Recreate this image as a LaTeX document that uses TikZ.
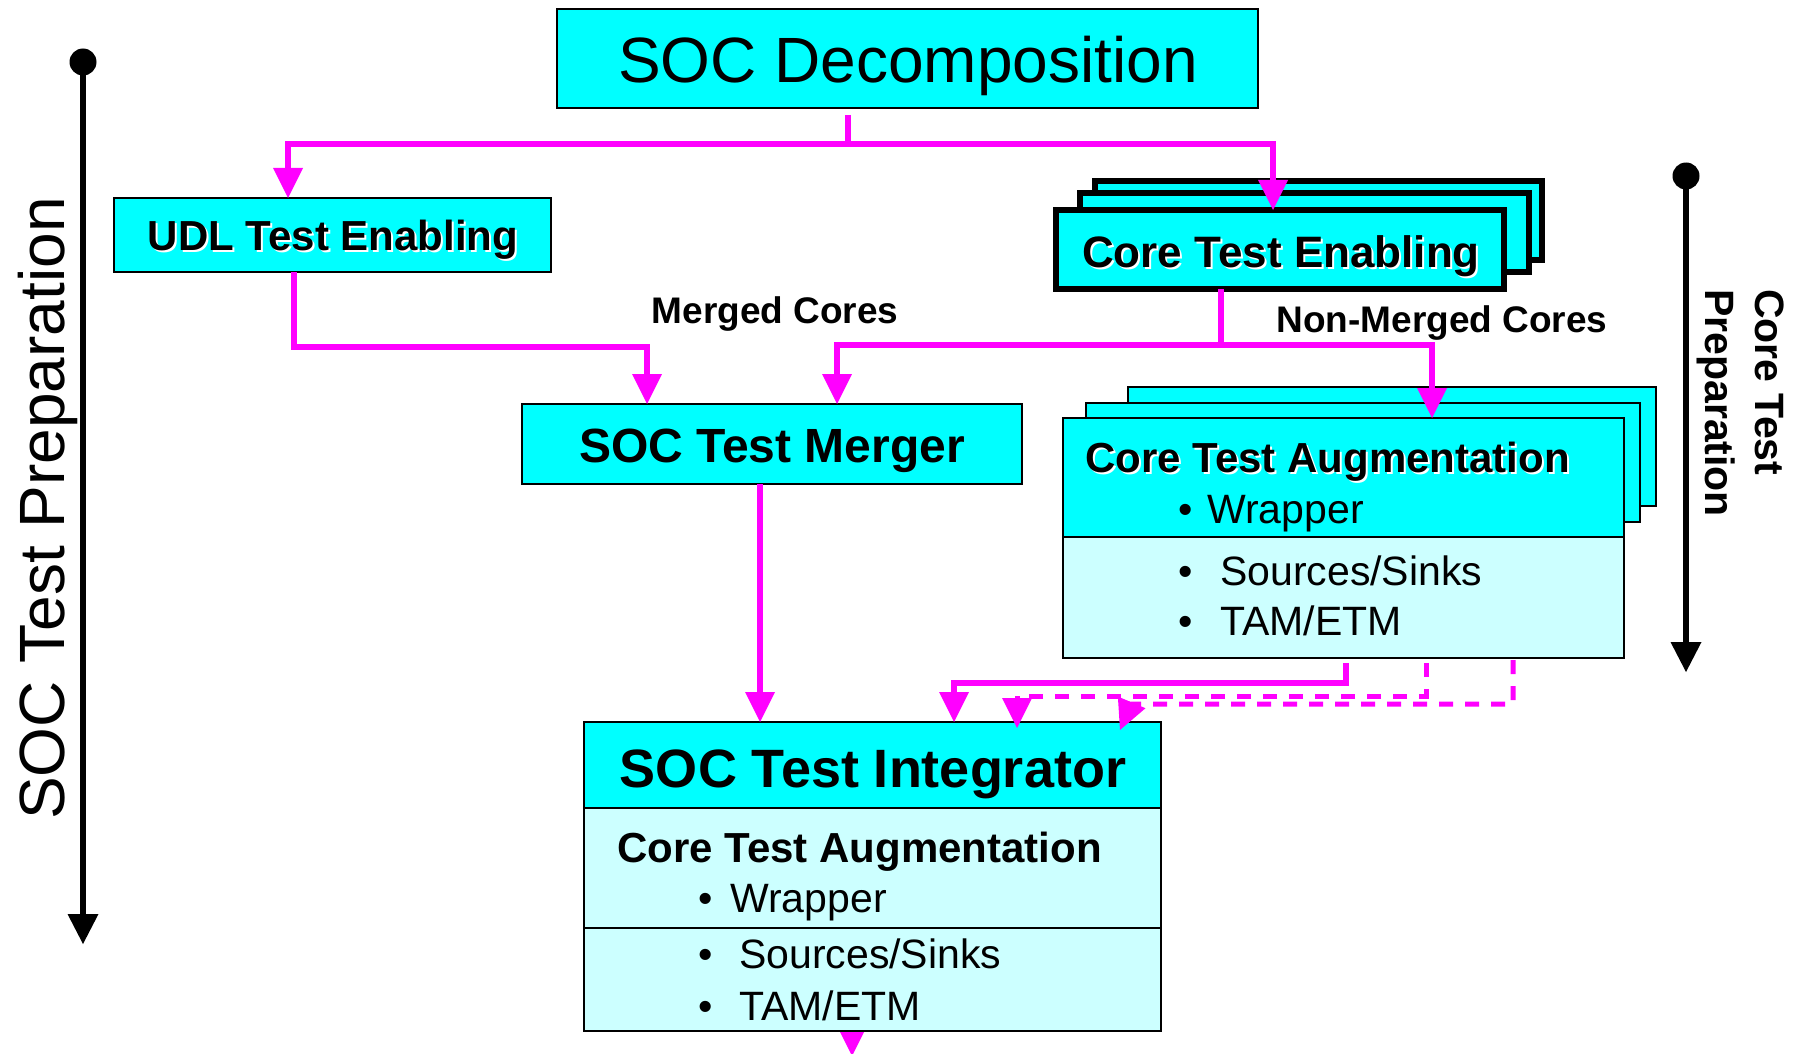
\documentclass[tikz,border=0pt]{standalone}
\usepackage{fontspec}
\setmainfont{Liberation Sans}
\usetikzlibrary{arrows.meta,calc,backgrounds}
\definecolor{boxcyan}{HTML}{00FFFF}
\definecolor{palecyan}{HTML}{CCFFFF}
\definecolor{flowpink}{HTML}{FF00FF}
% font size in pt (one pt is one pixel of the picture)
\newcommand{\fsz}[1]{\fontsize{#1pt}{#1pt}\selectfont}
% black text with a white offset copy behind it
\newcommand{\embossed}[1]{\makebox[0pt][l]{\hspace{2pt}\raisebox{-2pt}{\textcolor{white}{#1}}}#1}

\begin{document}
\begin{tikzpicture}[x=1pt,y=-1pt,
  box/.style={draw=black, line width=2.5pt, fill=boxcyan, inner sep=0pt, outer sep=0pt, anchor=north west},
  palebox/.style={box, fill=palecyan},
  heavybox/.style={box, line width=5.5pt},
  lbl/.style={inner sep=0pt, anchor=base},
  lblw/.style={inner sep=0pt, anchor=base west},
  boldtitle/.style={font=\fsz{42}\bfseries},
  itemtext/.style={font=\fsz{41}},
  flowline/.style={draw=flowpink, line width=5.5pt, -{Triangle[length=30pt,width=30pt,line width=0pt]}},
  flowdash/.style={flowline, line width=5pt, dash pattern=on 14pt off 12pt},
  timeaxis/.style={draw=black, line width=6pt, -{Triangle[length=30pt,width=31pt,line width=0pt]}},
  axisdot/.style={circle, fill=black, inner sep=0pt, minimum size=27pt},
]
\useasboundingbox (0,0) rectangle (1805,1054);
\begin{scope}[on background layer]
  \fill[white] (0,0) rectangle (1805,1054);
\end{scope}

% ---- time axes ----
\node[axisdot] (ldot) at (83,62) {};
\coordinate (lend) at (83,944);
\draw[timeaxis] (ldot.center) -- (lend);
\node[lblw, rotate=90, font=\fsz{64}] (soclab) at (64,820) {SOC Test Preparation};

\node[axisdot] (rdot) at (1686,176) {};
\coordinate (rend) at (1686,672);
\draw[timeaxis] (rdot.center) -- (rend);
\node[lblw, rotate=-90, font=\fsz{41}\bfseries] (corelab1) at (1755,289) {Core Test};
\node[lblw, rotate=-90, font=\fsz{41}\bfseries] (corelab2) at (1705,289) {Preparation};

% ---- SOC decomposition ----
\node[box, minimum width=701pt, minimum height=99pt] (dec) at (557,9) {};
\node[lbl, font=\fsz{64}] (dectxt) at (908,83) {SOC Decomposition};

% ---- UDL test enabling ----
\node[box, minimum width=437pt, minimum height=74pt] (udl) at (114,198) {};
\node[lbl, boldtitle] (udltxt) at (333,250) {\embossed{UDL Test Enabling}};

% ---- core test enabling (stack of three) ----
\node[heavybox, minimum width=447pt, minimum height=79pt] (cteC) at (1095,181) {};
\node[heavybox, minimum width=449pt, minimum height=79pt] (cteB) at (1080,193) {};
\node[heavybox, minimum width=448pt, minimum height=79pt] (cte) at (1056,210) {};
\node[lbl, font=\fsz{44}\bfseries] (ctetxt) at (1281,267) {\embossed{Core Test Enabling}};

% ---- branch labels ----
\node[lbl, font=\fsz{37}\bfseries] (mergedlbl) at (775,323) {Merged Cores};
\node[lbl, font=\fsz{37}\bfseries] (nonmergedlbl) at (1442,332) {Non-Merged Cores};

% ---- SOC test merger ----
\node[box, minimum width=500pt, minimum height=80pt] (merger) at (522,404) {};
\node[lbl, font=\fsz{48}\bfseries] (mergertxt) at (772,462) {SOC Test Merger};

% ---- core test augmentation (stack of three) ----
\node[box, minimum width=528pt, minimum height=119pt] (augC) at (1128,387) {};
\node[box, minimum width=554pt, minimum height=119pt] (augB) at (1086,403) {};
\node[palebox, minimum width=561pt, minimum height=240pt] (aug) at (1063,418) {};
\node[box, minimum width=561pt, minimum height=119pt] (augtop) at (1063,418) {};
\node[lblw, boldtitle] (augtitle) at (1085,472) {\embossed{Core Test Augmentation}};
\node[lblw, itemtext] (augb1) at (1178,523) {•};
\node[lblw, itemtext] (augwrap) at (1207,523) {Wrapper};
\node[lblw, itemtext] (augb2) at (1178,585) {•};
\node[lblw, itemtext] (augsrc) at (1220,585) {Sources/Sinks};
\node[lblw, itemtext] (augb3) at (1178,635) {•};
\node[lblw, itemtext] (augtam) at (1220,635) {TAM/ETM};

% ---- SOC test integrator ----
\node[palebox, minimum width=577pt, minimum height=309pt] (integ) at (584,722) {};
\node[box, minimum width=577pt, minimum height=86pt] (integtop) at (584,722) {};
\draw[line width=2.5pt] (integ.west |- 0,928) -- (integ.east |- 0,928);
\node[lbl, font=\fsz{54}\bfseries] (integtxt) at (873,787) {SOC Test Integrator};
\node[lblw, boldtitle] (integaug) at (617,862) {Core Test Augmentation};
\node[lblw, itemtext] (intb1) at (698,912) {•};
\node[lblw, itemtext] (intwrap) at (730,912) {Wrapper};
\node[lblw, itemtext] (intb2) at (698,968) {•};
\node[lblw, itemtext] (intsrc) at (739,968) {Sources/Sinks};
\node[lblw, itemtext] (intb3) at (698,1020) {•};
\node[lblw, itemtext] (inttam) at (739,1020) {TAM/ETM};

% ---- flow connectors ----
\coordinate (decsplit) at (848,144);
\draw[flowline] ($(848,0 |- dec.south)+(0,7)$) -- (decsplit) -| (288,0 |- udl.north);
\draw[flowline] (decsplit) -| (1273,0 |- cte.north);

\coordinate (udlbend) at (647,347);
\draw[flowline] (294,0 |- udl.south) |- (udlbend) -- (udlbend |- merger.north);

\coordinate (ctesplit) at (1221,345);
\draw[flowline] (ctesplit |- cte.south) -- (ctesplit) -| (837,0 |- merger.north);
\draw[flowline] (ctesplit) -| (1432,0 |- aug.north);

\draw[flowline] (760,0 |- merger.south) -- (760,0 |- integ.north);

\coordinate (augsolid) at (1346,683);
\draw[flowline] ($(augsolid |- aug.south)+(0,5)$) -- (augsolid) -| (954,0 |- integ.north);

\coordinate (dashA) at (1426,696);
\draw[flowdash] ($(dashA |- aug.south)+(0,5)$) -- (dashA) -| ($(1017,0 |- integ.north)+(0,6)$);

\coordinate (dashB) at (1513,704);
\coordinate (dashBturn) at (1131,704);
\draw[flowdash] ($(dashB |- aug.south)+(0,2)$) -- (dashB) -- (dashBturn) -- ($(1120,0 |- integ.north)+(0,8)$);

% outgoing flow below the integrator, partly hidden behind it
\begin{scope}[on background layer]
  \draw[flowline] ($(852,0 |- integ.south)+(0,-10)$) -- ++(0,35);
\end{scope}
\end{tikzpicture}
\end{document}
